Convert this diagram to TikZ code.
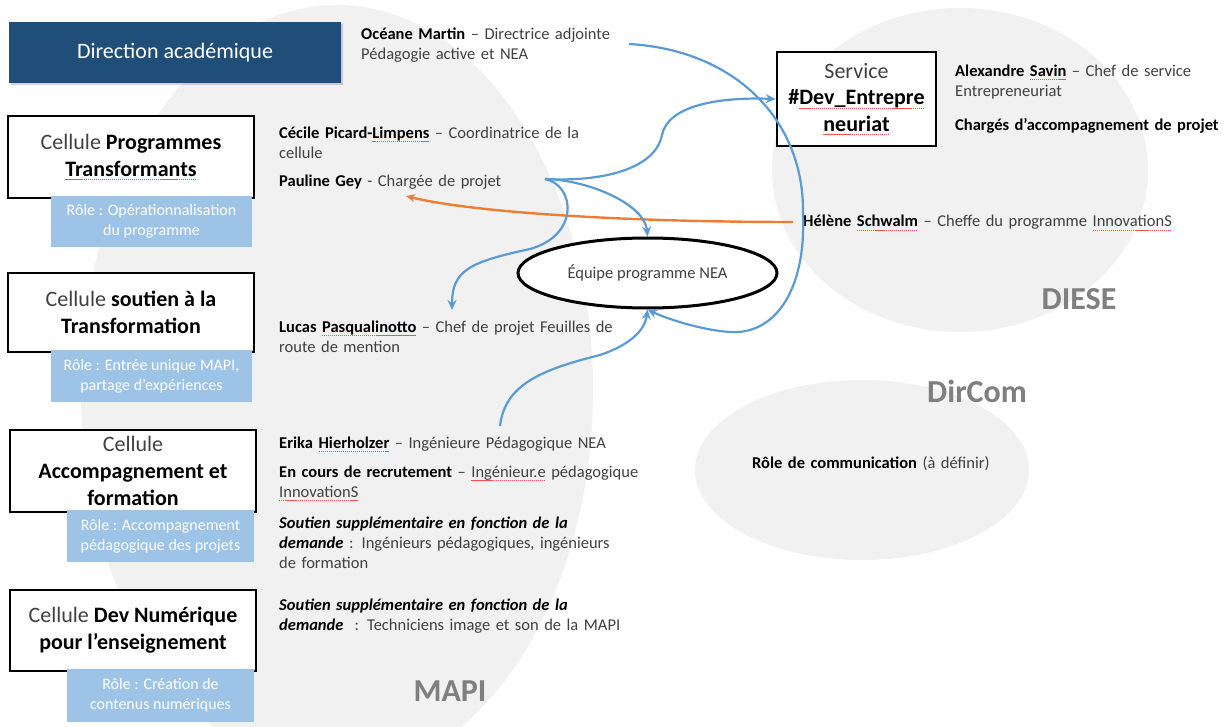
\documentclass[tikz,border=0pt]{standalone}
\usepackage{fontspec}
\setmainfont{Carlito}
\usetikzlibrary{arrows.meta,shapes.geometric,shadows}
\definecolor{arrowblue}{HTML}{5B9BD5}
\definecolor{arroworange}{HTML}{ED7D31}
\definecolor{rolefill}{HTML}{9DC3E6}
\definecolor{dirfill}{HTML}{1F4E79}
\definecolor{zonegray}{HTML}{F1F1F1}
\definecolor{zonetext}{HTML}{7F7F7F}
\definecolor{bodytext}{HTML}{404040}
\newcommand\sq[1]{\leavevmode\setbox0=\hbox{#1}\rlap{\textcolor{red!70}{\raisebox{-3.5pt}{\hbox to \wd0{\xleaders\hbox{\rule{1.2pt}{0.8pt}\hskip0.8pt}\hfill}}}}\box0\relax}
\newcommand\bn[1]{\textcolor{black}{\textbf{#1}}}
\newcommand\bi[1]{\textcolor{black}{\textbf{\textit{#1}}}}
\tikzset{
  zone/.style={ellipse, fill=zonegray, draw=none, inner sep=0},
  zonelabel/.style={text=zonetext, font=\fontsize{32}{36}\selectfont\bfseries, inner sep=0},
  cellbox/.style={draw=black, line width=2.5pt, fill=white, minimum width=246pt, align=center,
                  font=\fontsize{22}{26.8}\selectfont, text=bodytext, inner sep=0},
  rolebox/.style={fill=rolefill, text=white, align=center, font=\fontsize{16}{20}\selectfont, inner sep=0},
  info/.style={anchor=base west, align=left, text width=380pt, inner sep=0,
               font=\fontsize{16.5}{20.2}\selectfont, text=bodytext},
  link/.style={draw=arrowblue, line width=2.2pt, -{Stealth[length=10pt,width=9pt]}},
  olink/.style={draw=arroworange, line width=2.4pt, -{Stealth[length=9pt,width=8pt]}},
}
\begin{document}
\begin{tikzpicture}[x=1pt,y=-1pt]
\fill[white] (0,0) rectangle (1225,727);
\useasboundingbox (0,0) rectangle (1225,727);

% zones
\node[zone, minimum width=512pt, minimum height=770pt] (mapi) at (337,390) {};
\node[zone, minimum width=376pt, minimum height=324pt] (diese) at (960,170) {};
\node[zone, minimum width=334pt, minimum height=180pt] (dircom) at (862,470) {};
\node[zonelabel] (mapilbl) at (450,691) {MAPI};
\node[zonelabel] (dieselbl) at (1079,299) {DIESE};
\node[zonelabel] (dircomlbl) at (977,391) {DirCom};

% left column
\node[fill=dirfill, text=white, minimum width=332pt, minimum height=61pt, inner sep=0,
      font=\fontsize{22}{26}\selectfont,
      drop shadow={shadow xshift=1.5pt, shadow yshift=-2.5pt, opacity=0.35}] (direction) at (175,52.5) {Direction académique};

\node[cellbox, minimum height=82pt] (cpt) at (131,157) {Cellule \bn{Programmes}\\\bn{\sq{Transformants}}};
\node[rolebox, minimum width=201pt, minimum height=51pt] (rpt) at (151.5,221.5) {Rôle : Opérationnalisation\\du programme};

\node[cellbox, minimum height=79pt] (cst) at (131,312.5) {Cellule \bn{soutien à la}\\\bn{Transformation}};
\node[rolebox, minimum width=201pt, minimum height=52pt] (rst) at (151.5,376) {Rôle : Entrée unique MAPI,\\partage d’expériences};

\node[cellbox, minimum height=82pt] (caf) at (133,471) {Cellule\\\bn{Accompagnement et}\\\bn{formation}};
\node[rolebox, minimum width=187pt, minimum height=52pt] (raf) at (160.5,536) {Rôle : Accompagnement\\pédagogique des projets};

\node[cellbox, minimum height=81pt] (cdn) at (133,630.5) {Cellule \bn{Dev Numérique}\\\bn{pour l’enseignement}};
\node[rolebox, minimum width=187pt, minimum height=53pt] (rdn) at (160.5,695.5) {Rôle : Création de\\contenus numériques};

% people texts
\node[info] (oceane) at (361,39.5) {\bn{Océane Martin} – Directrice adjointe\\Pédagogie active et NEA};
\node[info] (cecile) at (279,138.5) {\bn{Cécile Picard-\sq{Limpens}} – Coordinatrice de la\\cellule};
\node[info] (pauline) at (279,186.5) {\bn{Pauline Gey} - Chargée de projet};
\node[info] (lucas) at (279,332.5) {\bn{Lucas \sq{Pasqualinotto}} – Chef de projet Feuilles de\\route de mention};
\node[info] (erika) at (279,448) {\bn{Erika \sq{Hierholzer}} – Ingénieure Pédagogique NEA};
\node[info] (recrut) at (279,477.5) {\bn{En cours de recrutement} – \sq{Ingénieur.e} pédagogique\\\sq{InnovationS}};
\node[info] (soutienA) at (279,528) {\bi{Soutien supplémentaire en fonction de la}\\\bi{demande} : Ingénieurs pédagogiques, ingénieurs\\de formation};
\node[info] (soutienB) at (279,610.5) {\bi{Soutien supplémentaire en fonction de la}\\\bi{demande} ~: Techniciens image et son de la MAPI};

% right side
\node[cellbox, minimum width=159pt, minimum height=94pt] (service) at (856.5,99) {Service\\\bn{\#\sq{Dev\_Entrepre}}\\\bn{\sq{neuriat}}};
\node[info] (alex) at (955,76.5) {\bn{Alexandre \sq{Savin}} – Chef de service\\Entrepreneuriat};
\node[info] (charges) at (955,130.5) {\bn{Chargés d’accompagnement de projet}};
\node[info] (helene) at (803,227) {\bn{Hélène \sq{Schwalm}} – Cheffe du programme \sq{InnovationS}};
\node[info] (comm) at (752,468) {\bn{Rôle de communication} (à définir)};

% central ellipse
\node[ellipse, draw=black, line width=3pt, fill=white, minimum width=259pt, minimum height=70pt,
      inner sep=0, font=\fontsize{16.5}{20}\selectfont, text=bodytext] (equipe) at (647.5,273) {Équipe programme NEA};

% connector ends
\coordinate (oStart) at (629,44);
\coordinate (pStart) at (545,179);
\coordinate (eStart) at (500,426);
\coordinate (hStart) at (793,222);
\coordinate (lucasTip) at (452,310);
\coordinate (pgTip) at (406,196);

% connectors
\draw[olink] (hStart) .. controls (620,222) and (470,212) .. (pgTip);
\draw[link] (oStart) .. controls (735,50) and (805,120) .. (803,215)
            .. controls (806,290) and (775,335) .. (730,332)
            .. controls (700,330) and (665,318) .. (equipe.south);
\draw[link] (pStart) .. controls (600,182) and (655,170) .. (662,135)
            .. controls (668,105) and (720,97) .. (service.west);
\draw[link] (pStart) .. controls (590,180) and (645,205) .. (equipe.north);
\draw[link] (pStart) .. controls (575,185) and (580,235) .. (530,249)
            .. controls (470,262) and (452,270) .. (lucasTip);
\draw[link] (eStart) .. controls (505,385) and (540,370) .. (600,355)
            .. controls (630,345) and (645,330) .. (equipe.south);
\end{tikzpicture}
\end{document}
